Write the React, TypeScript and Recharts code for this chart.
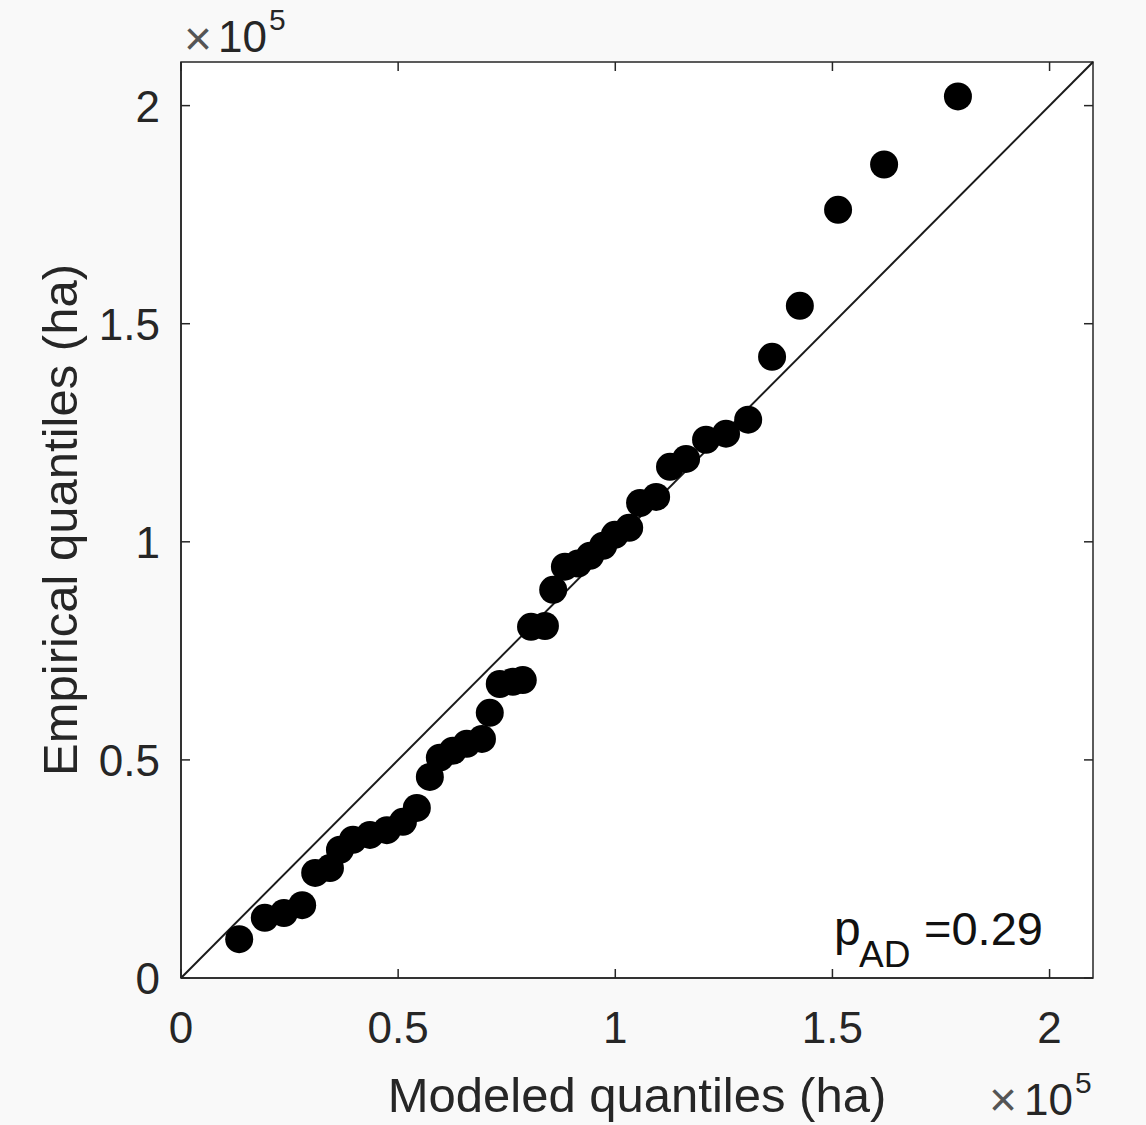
import React from 'react';
import {
  ScatterChart,
  Scatter,
  XAxis,
  YAxis,
  CartesianGrid,
  ReferenceLine,
  ReferenceArea,
} from 'recharts';

// Q-Q plot values, in ha
const modeled = [
  13400, 19300, 23700, 27900, 30900, 34300, 36600, 39600, 43500, 47400,
  51100, 54300, 57300, 59600, 62600, 65800, 69300, 71100, 73400, 76400,
  78700, 80600, 83800, 85700, 88400, 91400, 94200, 97200, 99900, 103200,
  105700, 109400, 112600, 116300, 120900, 125500, 130600, 136100, 142500, 151300,
  161900, 178900,
];
const empirical = [
  8900, 13800, 14900, 16700, 24100, 25200, 29400, 31700, 32800, 33900,
  35800, 39000, 46100, 50500, 52100, 53700, 54800, 60800, 67400, 67900,
  68300, 80500, 80700, 89000, 94300, 95000, 96800, 99100, 101600, 103200,
  108900, 110300, 117200, 119000, 123400, 124800, 128000, 142400, 154100, 176100,
  186500, 202100,
];
const axisTicks = [0, 50000, 100000, 150000, 200000];
const axisMax = 210000;

const points = modeled.map((m, i) => ({ x: m, y: empirical[i] }));

const CHART_W = 1146;
const CHART_H = 1125;
const Y_AXIS_W = 181;
const X_AXIS_H = 147;
const MARGIN = { top: 62, right: 53, bottom: 0, left: 0 };
const PLOT_W = CHART_W - MARGIN.left - MARGIN.right - Y_AXIS_W;
const PLOT_H = CHART_H - MARGIN.top - MARGIN.bottom - X_AXIS_H;

const FONT = '"Liberation Sans", Arial, Helvetica, sans-serif';
const INK = '#262626';
const TICK_LEN = 9;

const fmt = (v: number) => String(v / 100000);

// bottom ticks: label below, inward tick marks at bottom and top
const XTick = (props: any) => {
  const { x, y, payload } = props;
  return (
    <g>
      <line x1={x} x2={x} y1={y} y2={y - TICK_LEN} stroke={INK} strokeWidth={1.5} />
      <line x1={x} x2={x} y1={y - PLOT_H} y2={y - PLOT_H + TICK_LEN} stroke={INK} strokeWidth={1.5} />
      <text x={x} y={y + 65} textAnchor="middle" fontSize={44} fontFamily={FONT} fill={INK}>
        {fmt(payload.value)}
      </text>
    </g>
  );
};

// left ticks: label left, inward tick marks at left and right
const YTick = (props: any) => {
  const { x, y, payload } = props;
  return (
    <g>
      <line x1={x} x2={x + TICK_LEN} y1={y} y2={y} stroke={INK} strokeWidth={1.5} />
      <line x1={x + PLOT_W} x2={x + PLOT_W - TICK_LEN} y1={y} y2={y} stroke={INK} strokeWidth={1.5} />
      <text x={x - 21} y={y + 16} textAnchor="end" fontSize={44} fontFamily={FONT} fill={INK}>
        {fmt(payload.value)}
      </text>
    </g>
  );
};

const XTitle = (props: any) => {
  const vb = props.viewBox;
  return (
    <text x={vb.x + vb.width / 2} y={vb.y + 134} textAnchor="middle" fontSize={49} fontFamily={FONT} fill={INK}>
      Modeled quantiles (ha)
    </text>
  );
};

const YTitle = (props: any) => {
  const vb = props.viewBox;
  const cx = 77;
  const cy = vb.y + vb.height / 2;
  return (
    <text
      x={cx}
      y={cy}
      transform={`rotate(-90 ${cx} ${cy})`}
      textAnchor="middle"
      fontSize={49}
      fontFamily={FONT}
      fill={INK}
    >
      Empirical quantiles (ha)
    </text>
  );
};

const Dot = (props: any) => <circle cx={props.cx} cy={props.cy} r={14} fill="#000" />;

export default function App() {
  return (
    <div
      style={{
        position: 'absolute',
        left: 0,
        top: 0,
        width: CHART_W,
        height: CHART_H,
        background: '#f9f9f9',
      }}
    >
      <ScatterChart width={CHART_W} height={CHART_H} margin={MARGIN}>
        <CartesianGrid horizontal={false} vertical={false} fill="#ffffff" />
        <XAxis
          type="number"
          dataKey="x"
          domain={[0, axisMax]}
          ticks={axisTicks}
          height={X_AXIS_H}
          tickSize={0}
          tickMargin={0}
          tickLine={false}
          axisLine={{ stroke: INK, strokeWidth: 1.5 }}
          tick={<XTick />}
          interval={0}
          allowDataOverflow
          label={{ content: <XTitle /> }}
        />
        <YAxis
          type="number"
          dataKey="y"
          domain={[0, axisMax]}
          ticks={axisTicks}
          width={Y_AXIS_W}
          tickSize={0}
          tickMargin={0}
          tickLine={false}
          axisLine={{ stroke: INK, strokeWidth: 1.5 }}
          tick={<YTick />}
          interval={0}
          allowDataOverflow
          label={{ content: <YTitle /> }}
        />
        <ReferenceArea
          x1={0}
          x2={axisMax}
          y1={0}
          y2={axisMax}
          fill="none"
          fillOpacity={0}
          stroke={INK}
          strokeWidth={1.5}
        />
        <ReferenceLine
          segment={[
            { x: 0, y: 0 },
            { x: axisMax, y: axisMax },
          ]}
          stroke="#1a1a1a"
          strokeWidth={2}
        />
        <Scatter data={points} shape={<Dot />} isAnimationActive={false} />
      </ScatterChart>
      <svg
        width={CHART_W}
        height={CHART_H}
        style={{ position: 'absolute', left: 0, top: 0, pointerEvents: 'none' }}
        fontFamily={FONT}
      >
        <text x={184} y={55} fontSize={48} fill="#555">×</text>
        <text x={218} y={52} fontSize={44} fill={INK}>10</text>
        <text x={269} y={30} fontSize={30} fill={INK}>5</text>
        <text x={989} y={1116} fontSize={48} fill="#555">×</text>
        <text x={1024} y={1115} fontSize={44} fill={INK}>10</text>
        <text x={1075} y={1093} fontSize={30} fill={INK}>5</text>
        <text x={834} y={945} fontSize={48} fill="#111">p</text>
        <text x={859} y={967} fontSize={37} fill="#111">AD</text>
        <text x={924} y={945} fontSize={47} fill="#111">=0.29</text>
      </svg>
    </div>
  );
}
